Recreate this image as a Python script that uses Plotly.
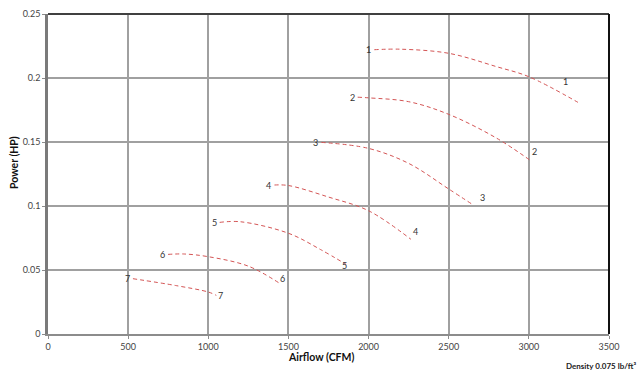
import plotly.graph_objects as go

curve_names = ["1", "2", "3", "4", "5", "6", "7"]
airflow = [
    [2036, 2200, 2500, 2800, 3000, 3306],
    [1932, 2000, 2250, 2500, 2800, 3016],
    [1706, 2000, 2250, 2500, 2653],
    [1413, 1500, 1750, 2000, 2264],
    [1071, 1200, 1500, 1700, 1860],
    [749, 850, 1000, 1250, 1440],
    [530, 800, 1000, 1050],
]
power = [
    [0.2221, 0.2225, 0.2193, 0.2088, 0.2010, 0.1810],
    [0.1850, 0.1845, 0.1815, 0.1716, 0.1529, 0.1350],
    [0.1497, 0.1450, 0.1333, 0.1133, 0.1008],
    [0.1164, 0.1160, 0.1070, 0.0963, 0.0740],
    [0.0872, 0.0877, 0.0787, 0.0660, 0.0544],
    [0.0622, 0.0625, 0.0604, 0.0530, 0.0400],
    [0.0432, 0.0378, 0.0328, 0.0302],
]
x_ticks = [0, 500, 1000, 1500, 2000, 2500, 3000, 3500]
y_ticks = [0, 0.05, 0.1, 0.15, 0.2, 0.25]
y_tick_labels = ["0", "0.05", "0.1", "0.15", "0.2", "0.25"]

# label pixel offsets (style)
end_offsets = [(-12, 21), (3, 10), (9, 7), (5, 8), (-2, -1), (4, 4), (4, 0)]

line_color = "#D45555"
font_family = "Lato, 'Open Sans', sans-serif"

plot_l, plot_r, plot_t, plot_b = 48, 609, 14, 334
pw, ph = plot_r - plot_l, plot_b - plot_t

fig = go.Figure()
annotations = []
for i, name in enumerate(curve_names):
    fig.add_trace(go.Scatter(
        x=airflow[i], y=power[i], mode="lines", name=name,
        line=dict(color=line_color, width=1, dash="4px,3px", shape="spline", smoothing=1.0),
        showlegend=False, hoverinfo="x+y",
    ))
    annotations.append(dict(
        x=airflow[i][0], y=power[i][0], xref="x", yref="y", text=name,
        showarrow=False, xanchor="right", xshift=-1, yshift=0,
        font=dict(family=font_family, size=9, color="#333333"),
    ))
    dx, dy = end_offsets[i]
    annotations.append(dict(
        x=airflow[i][-1], y=power[i][-1], xref="x", yref="y", text=name,
        showarrow=False, xanchor="center", xshift=dx, yshift=dy,
        font=dict(family=font_family, size=9, color="#333333"),
    ))

annotations.append(dict(
    x=(638 - plot_l) / pw, y=(plot_b - 366) / ph, xref="paper", yref="paper",
    text="<b>Density 0.075 lb/ft³</b>",
    showarrow=False, xanchor="right", yanchor="middle",
    font=dict(family=font_family, size=8, color="#222222"),
))
annotations.append(dict(
    x=(321 - plot_l) / pw, y=(plot_b - 357) / ph, xref="paper", yref="paper",
    text="<b>Airflow (CFM)</b>", showarrow=False, xanchor="center", yanchor="middle",
    font=dict(family=font_family, size=10.5, color="#111111"),
))
annotations.append(dict(
    x=(14 - plot_l) / pw, y=(plot_b - 163) / ph, xref="paper", yref="paper",
    text="<b>Power (HP)</b>", showarrow=False, xanchor="center", yanchor="middle",
    textangle=-90,
    font=dict(family=font_family, size=10.5, color="#111111"),
))

fig.update_layout(
    width=640, height=372,
    margin=dict(l=plot_l, r=640 - plot_r, t=plot_t, b=372 - plot_b),
    paper_bgcolor="white", plot_bgcolor="white",
    font=dict(family=font_family, size=9, color="#444444"),
    annotations=annotations,
    shapes=[
        dict(type="line", xref="paper", yref="paper", x0=0, x1=1, y0=1, y1=1,
             line=dict(color="#404040", width=2)),
        dict(type="line", xref="paper", yref="paper", x0=1, x1=1, y0=0, y1=1,
             line=dict(color="#111111", width=2)),
    ],
    xaxis=dict(
        range=[0, 3500], tickvals=x_ticks, ticktext=[str(v) for v in x_ticks],
        showgrid=True, gridcolor="#A0A0A0", gridwidth=1.5,
        showline=True, linecolor="#8C8C8C", linewidth=2,
        ticks="outside", ticklen=3, tickcolor="#8C8C8C",
        zeroline=False, automargin=False,
        tickfont=dict(family=font_family, size=9, color="#444444"),
    ),
    yaxis=dict(
        range=[0, 0.25], tickvals=y_ticks, ticktext=y_tick_labels,
        showgrid=True, gridcolor="#A0A0A0", gridwidth=1.5,
        showline=True, linecolor="#7A7A7A", linewidth=2.5,
        ticks="outside", ticklen=3, tickcolor="#8C8C8C",
        zeroline=False, automargin=False,
        tickfont=dict(family=font_family, size=9, color="#444444"),
    ),
)

fig.write_html(
    "out.html",
    config={"displayModeBar": False},
    post_script="document.body.style.margin='0';document.body.style.overflow='hidden';",
)
